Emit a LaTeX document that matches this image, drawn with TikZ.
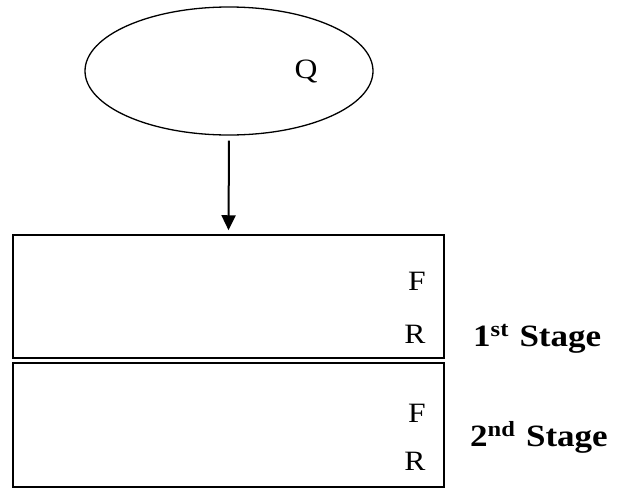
\documentclass[tikz,border=0pt]{standalone}
\usepackage{fontspec}
\setmainfont{Liberation Serif}
\usetikzlibrary{shapes.geometric,arrows.meta}
\newcommand\stretchtxt[1]{\scalebox{1.13}[1]{#1}}
\tikzset{
  frame/.style={draw=black, line width=1.5pt, rectangle, minimum width=431pt, inner sep=0pt},
  letter/.style={inner sep=0pt, font=\fontsize{28}{30}\selectfont},
  stagelbl/.style={inner sep=0pt, anchor=base west, font=\fontsize{31}{33}\selectfont\bfseries},
  link/.style={line width=2pt, -{Triangle[width=14pt,length=15pt]}, shorten <=5pt, shorten >=4pt}
}
\begin{document}
\begin{tikzpicture}[x=1pt,y=-1pt]
\useasboundingbox (0,0) rectangle (618,488);
\node[draw=black, line width=1.3pt, ellipse, minimum width=288pt, minimum height=128pt, inner sep=0pt] (ell) at (229,71) {};
\node[letter, anchor=base] (q) at (306,78) {\stretchtxt{Q}};
\node[frame, minimum height=123pt] (box1) at (228.5,296.5) {};
\node[frame, minimum height=124pt] (box2) at (228.5,425) {};
\draw[link] (ell.south) -- (box1.north);
\node[letter] (f1) at (417,281) {\stretchtxt{F}};
\node[letter] (r1) at (415,334) {\stretchtxt{R}};
\node[letter] (f2) at (417,413) {\stretchtxt{F}};
\node[letter] (r2) at (415,461) {\stretchtxt{R}};
\node[stagelbl] (s1) at (473,346) {\stretchtxt{1\textsuperscript{st}\hspace{0.3em}Stage}};
\node[stagelbl] (s2) at (470,446) {\stretchtxt{2\textsuperscript{nd}\hspace{0.3em}Stage}};
\end{tikzpicture}
\end{document}
